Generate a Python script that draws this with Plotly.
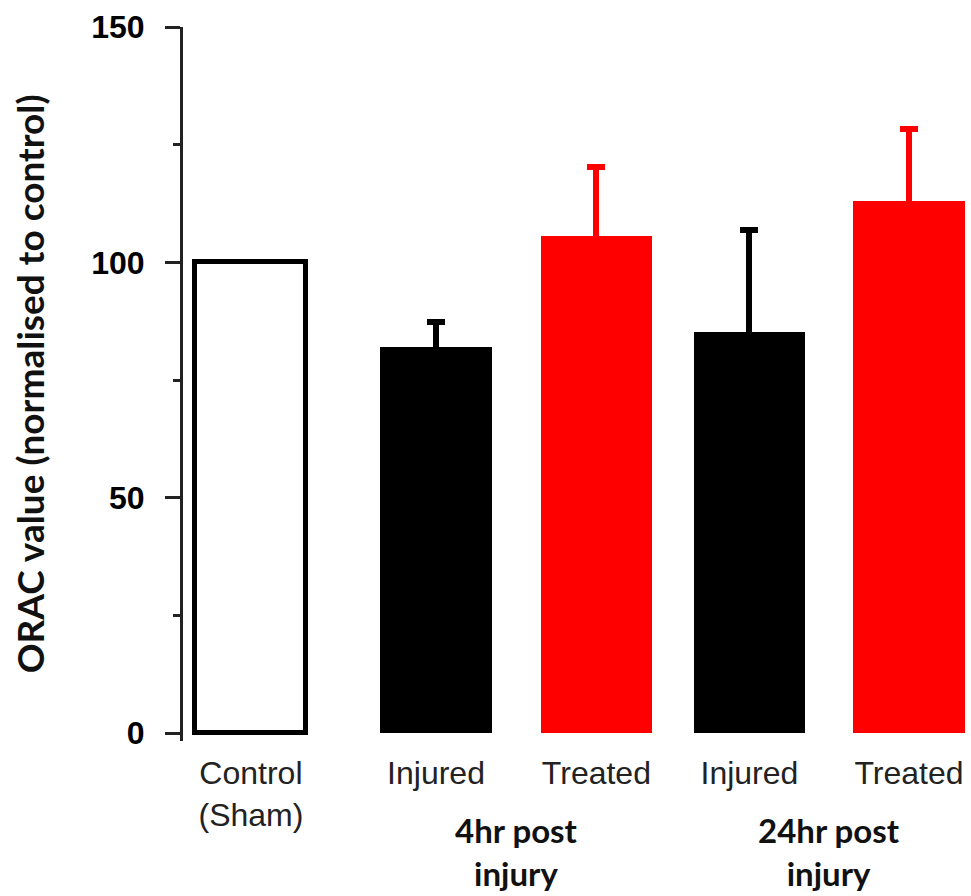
import plotly.graph_objects as go

# ORAC values normalised to sham control (mean and upper SEM)
categories = ["Control<br>(Sham)", "Injured", "Treated", "Injured", "Treated"]
orac_mean = [100, 82, 105.5, 85.3, 113]
orac_err = [0, 5.4, 14.7, 21.5, 15.3]
group_labels = ["4hr post<br>injury", "24hr post<br>injury"]
y_ticks = [0, 50, 100, 150]

# layout: bar centres along the x axis and bar width (axis units)
bar_pos = [0, 1.125, 2.1, 3.03, 4.0]
bar_width = 0.675
BLACK = "#000000"
RED = "#ff0000"
# the lower whisker end is tucked inside the bar so only the upper one shows
HIDDEN_LOW = 1.2

fig = go.Figure()

# open control bar
fig.add_trace(go.Bar(
    x=[bar_pos[0]], y=[orac_mean[0]], width=bar_width,
    marker=dict(color="white", line=dict(color=BLACK, width=5)),
    showlegend=False, hoverinfo="skip",
))

# injured (black) and treated (red) bars with upward error bars
for idx, colour in (([1, 3], BLACK), ([2, 4], RED)):
    fig.add_trace(go.Bar(
        x=[bar_pos[i] for i in idx],
        y=[orac_mean[i] for i in idx],
        width=bar_width,
        marker=dict(color=colour, line=dict(width=0)),
        error_y=dict(
            type="data", symmetric=False,
            array=[orac_err[i] for i in idx],
            arrayminus=[HIDDEN_LOW for _ in idx],
            color=colour, thickness=6, width=9,
        ),
        showlegend=False, hoverinfo="skip",
    ))

# group captions under each pair of bars
for g, (a, b) in enumerate(((1, 2), (3, 4))):
    fig.add_annotation(
        x=(bar_pos[a] + bar_pos[b]) / 2, xref="x",
        y=-0.155, yref="paper", yanchor="middle",
        text=group_labels[g], showarrow=False,
        font=dict(family="Lato", size=33, color="#111111", weight="bold"),
        align="center",
    )

# y-axis title
fig.add_annotation(
    x=-0.195, xref="paper", y=0.5, yref="paper",
    text="ORAC value (normalised to control)", textangle=-90,
    showarrow=False, xanchor="center", yanchor="middle",
    font=dict(family="Lato", size=37, color="#111111", weight="bold"),
)

fig.update_layout(
    width=971, height=896,
    margin=dict(l=183, r=0, t=27, b=155),
    plot_bgcolor="white", paper_bgcolor="white",
    barmode="overlay", bargap=0,
    xaxis=dict(
        range=[-0.413, 4.377],
        tickvals=bar_pos, ticktext=categories,
        tickfont=dict(family="Liberation Sans", size=32, color="#222222"),
        showline=False, showgrid=False, zeroline=False, ticks="",
        ticklabelstandoff=10,
    ),
    yaxis=dict(
        range=[-1.7, 150],
        tickvals=y_ticks,
        tickfont=dict(family="Liberation Sans", size=32, color="#000000", weight="bold"),
        showline=True, linecolor="#222222", linewidth=3,
        ticks="outside", ticklen=15, tickwidth=3, tickcolor="#222222",
        minor=dict(tickvals=[25, 75, 125], ticks="outside", ticklen=7,
                   tickwidth=3, tickcolor="#222222"),
        showgrid=False, zeroline=False,
        ticklabelstandoff=14,
    ),
)

fig.write_html("out.html")
